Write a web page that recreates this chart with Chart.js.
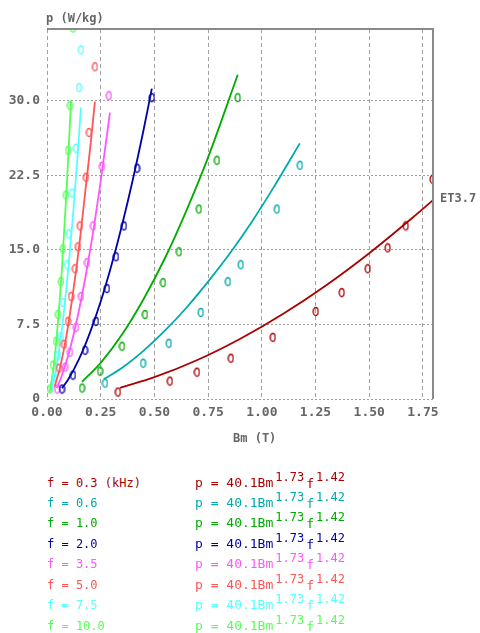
<!DOCTYPE html>
<html><head><meta charset="utf-8">
<script src="https://cdn.jsdelivr.net/npm/chart.js@4.4.0/dist/chart.umd.min.js"></script>
<style>
html,body{margin:0;padding:0;background:#fff;}
#wrap{position:relative;width:480px;height:633px;overflow:hidden;background:#fff;}
#c{position:absolute;left:0;top:0;}
.lbl{position:absolute;font-family:"DejaVu Sans Mono",monospace;font-size:12px;white-space:pre;line-height:14px;}
.ex{font-size:13px;}
.sup{position:relative;top:-6px;font-size:12px;margin-left:2px;}
.ff{position:relative;top:1px;margin-left:2px;}
</style></head>
<body><div id="wrap"><canvas id="c" width="480" height="460" style="width:480px;height:460px"></canvas>
<div class="lbl" style="left:46px;top:11px;color:#666;font-weight:bold">p (W/kg)</div>
<div class="lbl" style="left:440px;top:191px;color:#666;font-weight:bold">ET3.7</div>
<div class="lbl" style="left:233px;top:431px;color:#666;font-weight:bold">Bm (T)</div>
<div id="legend"></div>
</div>
<script>
// ---- data ----
const freqLabels = ['0.3 (kHz)','0.6','1.0','2.0','3.5','5.0','7.5','10.0'];
const colors = ['#aa0000','#00aaaa','#00aa00','#0000aa','#ff55ff','#ff5555','#55ffff','#55ff55'];
const coefText = '40.1';
const expB = '1.73';
const expF = '1.42';

const xTicks = [0,0.25,0.5,0.75,1.0,1.25,1.5,1.75];
const xTickLabels = ['0.00','0.25','0.50','0.75','1.00','1.25','1.50','1.75'];
const yTicks = [0,7.5,15,22.5,30];
const yTickLabels = ['0','7.5','15.0','22.5','30.0'];

// measured points (Bm in T, p in W/kg)
const bm03 = [0.33,0.572,0.698,0.856,1.051,1.251,1.372,1.493,1.586,1.670,1.795];
const pm03 = [0.7,1.8,2.7,4.1,6.2,8.8,10.7,13.1,15.2,17.4,22.1];
const bm06 = [0.270,0.447,0.567,0.716,0.842,0.902,1.070,1.177];
const pm06 = [1.6,3.6,5.6,8.7,11.8,13.5,19.1,23.5];
const bm10 = [0.163,0.247,0.349,0.456,0.540,0.614,0.707,0.791,0.888];
const pm10 = [1.1,2.8,5.3,8.5,11.7,14.8,19.1,24.0,30.3];
const bm20 = [0.070,0.121,0.177,0.228,0.279,0.321,0.358,0.419,0.488];
const pm20 = [1.0,2.4,4.9,7.8,11.1,14.3,17.4,23.2,30.3];
const bm35 = [0.047,0.084,0.107,0.135,0.158,0.186,0.214,0.256,0.288];
const pm35 = [1.0,3.2,4.7,7.2,10.3,13.7,17.4,23.4,30.5];
const bm50 = [0.056,0.079,0.098,0.112,0.130,0.144,0.153,0.181,0.195,0.223];
const pm50 = [3.1,5.5,7.8,10.3,13.1,15.3,17.4,22.3,26.8,33.4];
const bm75 = [0.033,0.051,0.065,0.074,0.093,0.102,0.116,0.135,0.149,0.158];
const pm75 = [2.2,4.4,6.3,9.7,13.5,16.6,20.7,25.2,31.3,35.1];
const bm100 = [0.014,0.028,0.042,0.051,0.065,0.074,0.088,0.098,0.107,0.121];
const pm100 = [1.0,3.4,5.8,8.5,11.8,15.1,20.5,25.0,29.5,37.3];

// fitted curves
const bf03 = [0.34,0.5,0.7,0.9,1.1,1.3,1.5,1.7,1.797];
const pf03 = [1.12,2.19,3.92,6.06,8.57,11.44,14.66,18.2,20.0];
const bf06 = [0.265,0.35,0.45,0.55,0.65,0.75,0.85,0.95,1.05,1.177];
const pf06 = [2.0,3.15,4.87,6.89,9.2,11.8,14.6,17.7,21.1,25.7];
const bf10 = [0.163,0.25,0.35,0.45,0.55,0.65,0.75,0.888];
const pf10 = [1.73,3.64,6.51,10.06,14.2,19.0,24.3,32.6];
const bf20 = [0.07,0.1,0.15,0.2,0.25,0.3,0.35,0.4,0.45,0.488];
const pf20 = [1.08,2.01,4.05,6.67,9.8,13.45,17.55,22.1,27.1,31.2];
const bf35 = [0.046,0.07,0.1,0.13,0.16,0.19,0.22,0.25,0.293];
const pf35 = [1.1,2.42,4.48,7.06,10.1,13.6,17.5,21.9,28.8];
const bf50 = [0.035,0.06,0.09,0.12,0.15,0.18,0.205,0.223];
const pf50 = [1.2,3.1,6.3,10.5,15.4,21.2,26.0,29.9];
const bf75 = [0.02,0.04,0.06,0.08,0.1,0.12,0.14,0.158];
const pf75 = [0.82,2.72,5.5,9.0,13.3,18.2,23.8,29.3];
const bf100 = [0.012,0.03,0.05,0.07,0.09,0.112];
const pf100 = [0.63,3.07,7.5,13.3,20.6,30.0];

const measB = [bm03,bm06,bm10,bm20,bm35,bm50,bm75,bm100];
const measP = [pm03,pm06,pm10,pm20,pm35,pm50,pm75,pm100];
const fitB = [bf03,bf06,bf10,bf20,bf35,bf50,bf75,bf100];
const fitP = [pf03,pf06,pf10,pf20,pf35,pf50,pf75,pf100];

// ---- marker glyph ----
function marker(color){
  const c=document.createElement('canvas');c.width=7;c.height=11;
  const g=c.getContext('2d');g.strokeStyle=color;g.lineWidth=1.3;
  g.beginPath();g.ellipse(3.5,5.5,2.4,4,0,0,Math.PI*2);g.stroke();return c;
}
const zip=(a,b)=>a.map((v,i)=>({x:v,y:b[i]}));
const datasets=[];
colors.forEach((col,i)=>{
  datasets.push({data:zip(fitB[i],fitP[i]),showLine:true,borderColor:col,borderWidth:1.8,
    pointRadius:0,cubicInterpolationMode:'monotone',fill:false,clip:0});
  datasets.push({data:zip(measB[i],measP[i]),showLine:false,pointStyle:marker(col),
    pointRadius:4,borderColor:col,backgroundColor:col,clip:0});
});

const frame={id:'frame',afterDraw(ch){
  const a=ch.chartArea,g=ch.ctx;g.save();g.strokeStyle='#8a8a8a';g.lineWidth=2;
  g.beginPath();g.moveTo(a.left,a.top);g.lineTo(a.right,a.top);g.lineTo(a.right,a.bottom);g.stroke();g.restore();
}};

const tickFont={family:'"DejaVu Sans Mono", monospace',size:13,weight:'bold'};
new Chart(document.getElementById('c'),{
  type:'scatter',
  data:{datasets},
  options:{
    responsive:false,animation:false,
    layout:{padding:{left:0,right:47,top:29,bottom:0}},
    plugins:{legend:{display:false},tooltip:{enabled:false}},
    scales:{
      x:{type:'linear',min:0,max:1.797,
        afterBuildTicks:s=>{s.ticks=xTicks.map(v=>({value:v}));},
        afterFit:s=>{s.height=61;},
        ticks:{callback:(v,i)=>xTickLabels[i],padding:6,color:'#666',font:tickFont,maxRotation:0,autoSkip:false},
        grid:{color:'#a0a0a0',drawTicks:false,lineWidth:1},
        border:{display:false,dash:[4,3]}},
      y:{type:'linear',min:0,max:37.2,
        afterBuildTicks:s=>{s.ticks=yTicks.map(v=>({value:v}));},
        afterFit:s=>{s.width=47;},
        ticks:{callback:(v,i)=>yTickLabels[i],padding:7,color:'#666',font:tickFont,autoSkip:false},
        grid:{color:'#a0a0a0',drawTicks:false,lineWidth:1},
        border:{display:false,dash:[2,2]}}
    }
  },
  plugins:[frame]
});

// ---- legend (real text) ----
const rowCenters=[483,503,523,544,564,585,605,626];
const lg=document.getElementById('legend');
colors.forEach((col,i)=>{
  const l=document.createElement('div');l.className='lbl';
  l.style.cssText=`left:47px;top:${rowCenters[i]-7}px;color:${col}`;
  l.textContent='f = '+freqLabels[i];lg.appendChild(l);
  const r=document.createElement('div');r.className='lbl ex';
  r.style.cssText=`left:195px;top:${rowCenters[i]-7}px;color:${col}`;
  r.innerHTML=`p = ${coefText}Bm<span class="sup">${expB}</span><span class="ff">f</span><span class="sup">${expF}</span>`;
  lg.appendChild(r);
});
</script>
</body></html>
